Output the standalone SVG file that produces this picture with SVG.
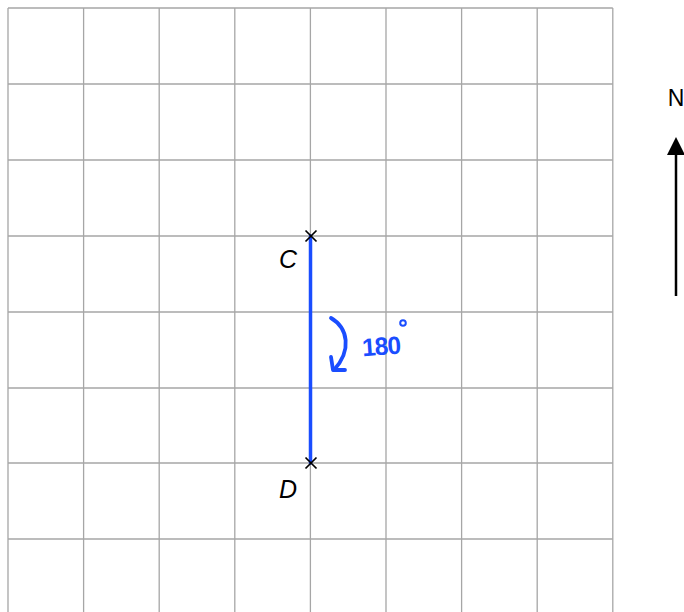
<svg xmlns="http://www.w3.org/2000/svg" width="684" height="612" viewBox="0 0 684 612">
<style>
.g{stroke:#a6a6a6;stroke-width:1.3;fill:none}
.lbl{font-family:"Liberation Sans",Arial,sans-serif;font-style:italic;font-size:25px;fill:#000}
.x{stroke:#000;stroke-width:1.7}
.blue{stroke:#1a4dff;fill:none;stroke-linecap:round;stroke-linejoin:round}
</style>
<rect width="684" height="612" fill="#fff"/>
<g id="grid">
<path class="g" d="M8,8V612M83.6,8V612M159.2,8V612M234.8,8V612M310.4,8V612M386,8V612M461.6,8V612M537.2,8V612M612.8,8V612"/>
<path class="g" d="M8,8H612.8M8,84H612.8M8,160H612.8M8,236H612.8M8,312H612.8M8,388H612.8M8,463H612.8M8,539H612.8"/>
</g>
<g id="connectors">
<line class="blue" x1="310.5" y1="236" x2="310.5" y2="463" stroke-width="3.5" stroke-linecap="butt"/>
</g>
<g id="C">
<path class="x" d="M305.5,230.5L316.5,241.5M316.5,230.5L305.5,241.5"/>
<text class="lbl" x="279" y="268">C</text>
</g>
<g id="D">
<path class="x" d="M305.5,457.5L316.5,468.5M316.5,457.5L305.5,468.5"/>
<text class="lbl" x="279" y="498">D</text>
</g>
<g id="rotation">
<path class="blue" stroke-width="3.8" d="M331,318C348,328 352,350 334,370"/>
<path class="blue" stroke-width="3.8" d="M331,357L333,370L345,370"/>
<text x="362" y="355" font-family="'Liberation Sans',Arial,sans-serif" font-size="25" font-weight="bold" fill="#1a4dff" letter-spacing="-1" textLength="38" lengthAdjust="spacingAndGlyphs" transform="rotate(-4 380 345)">180</text>
<circle cx="403" cy="323" r="2.8" fill="none" stroke="#1a4dff" stroke-width="2"/>
</g>
<g id="north">
<line x1="676" y1="296" x2="676" y2="150" stroke="#000" stroke-width="2.5"/>
<polygon points="676,137 667,155 685,155" fill="#000"/>
<text x="676" y="106" text-anchor="middle" font-family="'Liberation Sans',Arial,sans-serif" font-size="23" fill="#000">N</text>
</g>
</svg>
